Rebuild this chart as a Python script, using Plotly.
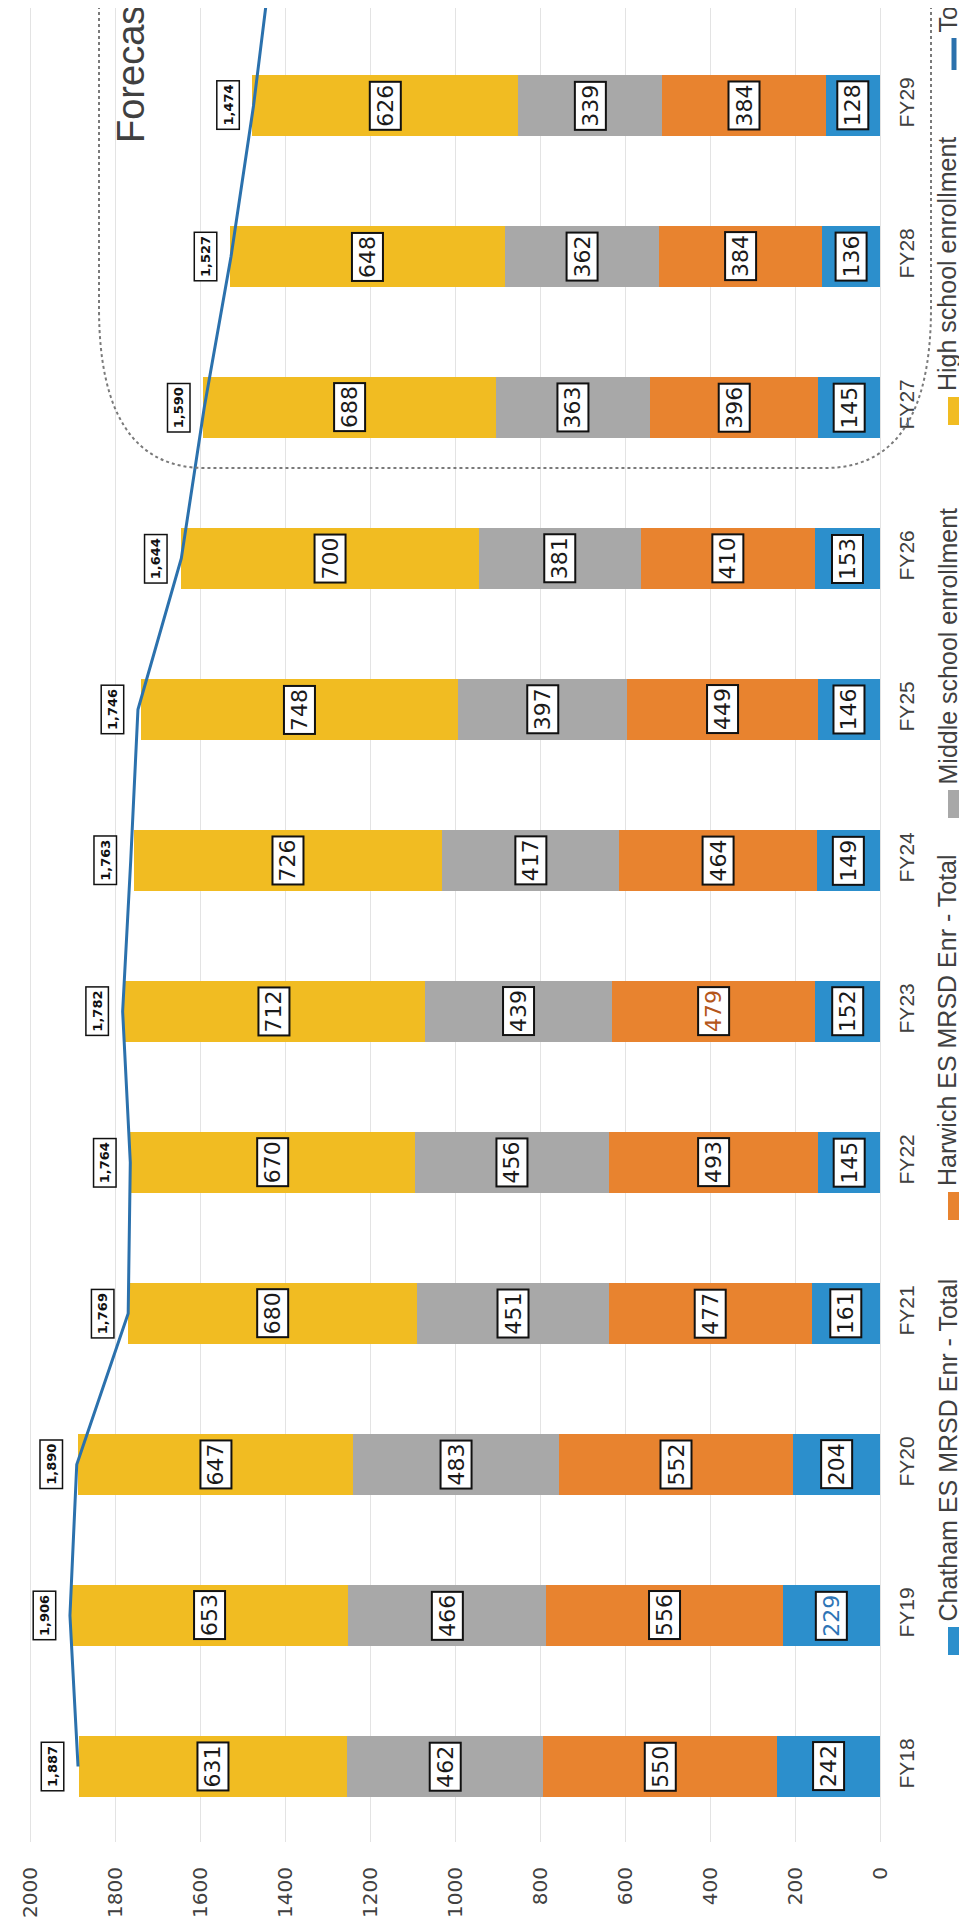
import plotly.graph_objects as go

# ---------------- data ----------------
years = ["FY18", "FY19", "FY20", "FY21", "FY22", "FY23", "FY24", "FY25", "FY26", "FY27", "FY28", "FY29"]
line_years = years + ["FY30"]
chatham = [242, 229, 204, 161, 145, 152, 149, 146, 153, 145, 136, 128]
harwich = [550, 556, 552, 477, 493, 479, 464, 449, 410, 396, 384, 384]
middle = [462, 466, 483, 451, 456, 439, 417, 397, 381, 363, 362, 339]
high = [631, 653, 647, 680, 670, 712, 726, 748, 700, 688, 648, 626]
totals = [1887, 1906, 1890, 1769, 1764, 1782, 1763, 1746, 1644, 1590, 1527, 1474, 1430]
series_names = ["Chatham ES MRSD Enr - Total", "Harwich ES MRSD Enr - Total",
                "Middle school enrollment", "High school enrollment"]
total_name = "Total"
value_ticks = [0, 200, 400, 600, 800, 1000, 1200, 1400, 1600, 1800, 2000]
forecast_text = "Forecast"

# ---------------- style ----------------
colors = ["#2C8FCC", "#E8832F", "#A8A8A8", "#F1BC22"]
line_color = "#2B71AD"
label_color_override = {("Chatham ES MRSD Enr - Total", "FY19"): "#2E75B6",
                        ("Harwich ES MRSD Enr - Total", "FY23"): "#B4561A"}
W, H = 967, 1917
PL, PR, PT, PB = 0, 872, 0, 1834  # plot area in pixels


def xp(px):
    return (px - PL) / (PR - PL)


def yp(py):
    return (PB - py) / (PB - PT)


series = [chatham, harwich, middle, high]

fig = go.Figure()
for name, vals, col in zip(series_names, series, colors):
    fig.add_trace(go.Bar(y=years, x=vals, name=name, orientation="h",
                         marker=dict(color=col, line=dict(width=0)),
                         showlegend=False, hoverinfo="x+name"))

fig.add_trace(go.Scatter(y=line_years, x=totals, mode="lines", name=total_name,
                         line=dict(color=line_color, width=3), showlegend=False))

annotations = []
# segment labels
for i, yr in enumerate(years):
    base = 0
    for name, vals in zip(series_names, series):
        v = vals[i]
        col = label_color_override.get((name, yr), "#1a1a1a")
        annotations.append(dict(
            x=base + v / 2, y=yr, xref="x", yref="y", text=str(v), showarrow=False,
            textangle=-90, font=dict(family="DejaVu Sans", size=22, color=col),
            bgcolor="white", bordercolor="#111", borderwidth=2, borderpad=2,
            xanchor="center", yanchor="middle"))
        base += v
    # total labels
    annotations.append(dict(
        x=totals[i], y=yr, xref="x", yref="y", text=f"{totals[i]:,}", showarrow=False,
        xshift=-26, textangle=-90,
        font=dict(family="DejaVu Sans", size=13, color="#111", weight="bold"),
        bgcolor="white", bordercolor="#111", borderwidth=1.5, borderpad=3,
        xanchor="center", yanchor="middle"))

# Forecast label
annotations.append(dict(x=xp(123), y=yp(137), xref="paper", yref="paper", text=forecast_text,
                        showarrow=False, textangle=-90, xanchor="center", yanchor="bottom",
                        font=dict(family="Liberation Sans", size=38, color="#404040")))

shapes = []
# Forecast dotted rounded box
path = (f"M {xp(91)},{yp(-20)} L {xp(91)},{yp(300)} Q {xp(91)},{yp(460)} {xp(197)},{yp(460)} "
        f"L {xp(817)},{yp(460)} Q {xp(923)},{yp(460)} {xp(923)},{yp(300)} L {xp(923)},{yp(-20)}")
shapes.append(dict(type="path", path=path, xref="paper", yref="paper",
                   line=dict(color="#7a7a7a", width=2, dash="dot")))

# legend (rotated)
legend_pos = [1647, 1212, 810, 417]  # bottom edge of each marker in px
for name, col, yb in zip(series_names, colors, legend_pos):
    shapes.append(dict(type="rect", xref="paper", yref="paper",
                       x0=xp(940), x1=xp(954), y0=yp(yb), y1=yp(yb - 28),
                       fillcolor=col, line=dict(width=0)))
    annotations.append(dict(x=xp(939), y=yp(yb - 32), xref="paper", yref="paper", text=name,
                            showarrow=False, textangle=-90, xanchor="center", yanchor="bottom",
                            font=dict(family="Liberation Sans", size=25, color="#404040")))
shapes.append(dict(type="line", xref="paper", yref="paper", x0=xp(946), x1=xp(946),
                   y0=yp(62), y1=yp(30), line=dict(color=line_color, width=5)))
annotations.append(dict(x=xp(939), y=yp(26), xref="paper", yref="paper", text=total_name,
                        showarrow=False, textangle=-90, xanchor="center", yanchor="bottom",
                        font=dict(family="Liberation Sans", size=25, color="#404040")))

fig.update_layout(
    width=W, height=H, barmode="stack", bargap=0.60,
    margin=dict(l=PL, r=W - PR, t=PT, b=H - PB, pad=0),
    paper_bgcolor="white", plot_bgcolor="white",
    annotations=annotations, shapes=shapes,
    xaxis=dict(range=[(PR - PL) / 0.425, 0], tickvals=value_ticks, tickangle=-90,
               showgrid=True, gridcolor="#e3e3e3", gridwidth=1,
               zeroline=True, zerolinecolor="#e3e3e3", zerolinewidth=1,
               showline=False, ticks="", ticklabelstandoff=20,
               tickfont=dict(family="DejaVu Sans", size=20, color="#404040")),
    yaxis=dict(type="category", categoryorder="array", categoryarray=line_years,
               range=[-0.5, -0.5 + (PB - PT) / 151.0], side="right", tickangle=-90,
               showgrid=False, zeroline=False, showline=False, ticks="",
               ticklabelstandoff=12,
               tickfont=dict(family="Liberation Sans", size=21, color="#404040")),
)

fig.write_html("out.html")
